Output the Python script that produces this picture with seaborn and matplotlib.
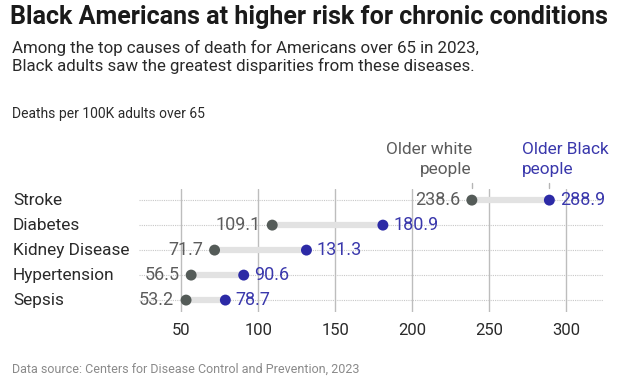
import matplotlib
matplotlib.use("Agg")
import matplotlib.pyplot as plt
import matplotlib.transforms as mtransforms
import pandas as pd
import seaborn as sns

# Data
causes = ["Stroke", "Diabetes", "Kidney Disease", "Hypertension", "Sepsis"]
white_rate = [238.6, 109.1, 71.7, 56.5, 53.2]
black_rate = [288.9, 180.9, 131.3, 90.6, 78.7]
x_ticks = [50, 100, 150, 200, 250, 300]

WHITE_DOT = "#545b58"
BLACK_DOT = "#2c2aa6"
WHITE_TXT = "#5c5c5c"
BLACK_TXT = "#3a38ac"

sns.set_theme(style="white")
plt.rcParams["font.family"] = ["Roboto", "DejaVu Sans"]

df = pd.DataFrame({"cause": causes, "white": white_rate, "black": black_rate})
df["row"] = range(len(df))
long = df.melt(id_vars=["cause", "row"], value_vars=["white", "black"],
               var_name="group", value_name="rate")

fig = plt.figure(figsize=(6.27, 3.76), dpi=100)
ax = fig.add_axes([0.222, 0.170, 0.740, 0.327])

# dotted row guides
for r in df["row"]:
    ax.axhline(r, color="#c8c8c8", lw=0.8, ls=(0, (1, 1)), zorder=0)

# vertical grid
for t in x_ticks:
    ax.axvline(t, color="#bdbdbd", lw=1.0, zorder=0.5)

# connecting bars
ax.hlines(df["row"], df["white"], df["black"], color="#e2e2e2", lw=4.5,
          zorder=1)

sns.scatterplot(data=long, x="rate", y="row", hue="group",
                palette={"white": WHITE_DOT, "black": BLACK_DOT},
                s=62, edgecolor="none", legend=False, zorder=3, ax=ax)

# value labels
for _, r in df.iterrows():
    ax.annotate(f"{r['white']:.1f}", (r["white"], r["row"]),
                xytext=(-8.5, 0), textcoords="offset points",
                ha="right", va="center", fontsize=13, color=WHITE_TXT)
    ax.annotate(f"{r['black']:.1f}", (r["black"], r["row"]),
                xytext=(7.5, 0), textcoords="offset points",
                ha="left", va="center", fontsize=13, color=BLACK_TXT)

# category labels
trans = mtransforms.blended_transform_factory(ax.transAxes, ax.transData)
for _, r in df.iterrows():
    ax.text(-0.272, r["row"], r["cause"], transform=trans, ha="left",
            va="center", fontsize=12.4, color="#2a2a2a")

# series labels above the top row
top = df.iloc[0]
ax.annotate("Older white\npeople", (top["white"], top["row"]),
            xytext=(0, 16.5), textcoords="offset points", ha="right",
            va="bottom", fontsize=12.4, color=WHITE_TXT, linespacing=1.4)
ax.annotate("Older Black\npeople", (top["black"], top["row"]),
            xytext=(-20, 16.5), textcoords="offset points", ha="left",
            va="bottom", fontsize=12.4, color=BLACK_TXT, linespacing=1.4)
for val in (top["white"], top["black"]):
    ax.plot([val, val], [-0.7, -0.5], color="#b5b5b5", lw=1,
            clip_on=False)

ax.set_xlim(22.8, 323.8)
ax.set_ylim(4.48, -0.44)
ax.set_xticks(x_ticks)
ax.set_yticks([])
ax.tick_params(axis="x", length=0, pad=8, labelsize=12, labelcolor="#2a2a2a")
ax.set_xlabel("")
ax.set_ylabel("")
sns.despine(ax=ax, left=True, bottom=True)

fig.text(0.016, 0.988, "Black Americans at higher risk for chronic conditions",
         ha="left", va="top", fontsize=18, fontweight="bold", color="#1a1a1a")
fig.text(0.019, 0.895,
         "Among the top causes of death for Americans over 65 in 2023,\n"
         "Black adults saw the greatest disparities from these diseases.",
         ha="left", va="top", fontsize=12.2, color="#2a2a2a", linespacing=1.2)
fig.text(0.019, 0.715, "Deaths per 100K adults over 65", ha="left", va="top",
         fontsize=10, color="#2a2a2a")
fig.text(0.019, 0.018, "Data source: Centers for Disease Control and Prevention, 2023",
         ha="left", va="center", fontsize=9.0, color="#8a8a8a")

fig.savefig("out.png", dpi=100)
